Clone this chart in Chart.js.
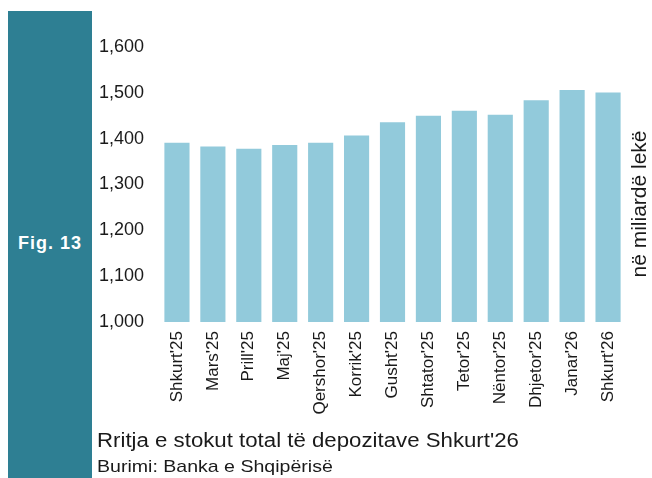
<!DOCTYPE html>
<html>
<head>
<meta charset="utf-8">
<script src="https://cdn.jsdelivr.net/npm/chart.js@4.4.1/dist/chart.umd.min.js"></script>
<style>
  html, body { margin: 0; padding: 0; background: #ffffff; }
  body { width: 652px; height: 478px; position: relative; overflow: hidden; font-family: "Liberation Sans", Arial, sans-serif; }
  #wrap { position: absolute; left: 0; top: 0; width: 652px; height: 478px; }
  #panel { position: absolute; left: 8px; top: 11px; width: 84px; height: 467px; background: #2e7f93; }
  #fig { position: absolute; left: 8px; top: 233px; width: 84px; text-align: center; color: #ffffff; font-weight: bold; font-size: 18px; letter-spacing: 1px; }
  #cap1 { position: absolute; left: 97px; top: 429px; color: #1a1a1a; font-size: 19.5px; white-space: nowrap; transform: scaleX(1.14); transform-origin: 0 0; }
  #cap2 { position: absolute; left: 97px; top: 457px; color: #1a1a1a; font-size: 17px; white-space: nowrap; transform: scaleX(1.15); transform-origin: 0 0; }
</style>
</head>
<body>
<div id="panel"></div>
<div id="fig">Fig. 13</div>
<div id="wrap"><canvas id="c" width="652" height="478"></canvas></div>
<div id="cap1">Rritja e stokut total të depozitave Shkurt'26</div>
<div id="cap2">Burimi: Banka e Shqipërisë</div>
<script>
const categories = ["Shkurt'25", "Mars'25", "Prill'25", "Maj'25", "Qershor'25", "Korrik'25", "Gusht'25", "Shtator'25", "Tetor'25", "Nëntor'25", "Dhjetor'25", "Janar'26", "Shkurt'26"];
const deposits = [1391, 1383, 1378, 1386, 1391, 1407, 1436, 1450, 1461, 1452, 1484, 1506, 1501];
const yTicks = [1000, 1100, 1200, 1300, 1400, 1500, 1600];
const unitLabel = "në miliardë lekë";

const unitPlugin = {
  id: 'unitLabel',
  afterDraw(chart) {
    const ctx = chart.ctx;
    ctx.save();
    ctx.translate(640, 204);
    ctx.rotate(-Math.PI / 2);
    ctx.fillStyle = '#1a1a1a';
    ctx.font = '21px "Liberation Sans", Arial, sans-serif';
    ctx.textAlign = 'center';
    ctx.textBaseline = 'middle';
    ctx.fillText(unitLabel, 0, 0);
    ctx.restore();
  }
};

new Chart(document.getElementById('c'), {
  type: 'bar',
  data: {
    labels: categories,
    datasets: [{
      data: deposits,
      backgroundColor: '#92cadb',
      borderWidth: 0,
      barPercentage: 0.7,
      categoryPercentage: 1.0
    }]
  },
  options: {
    responsive: false,
    animation: false,
    layout: { padding: { left: 92, right: 26, top: 47, bottom: 0 } },
    plugins: { legend: { display: false }, tooltip: { enabled: false } },
    scales: {
      x: {
        grid: { display: false, drawTicks: false },
        border: { display: false },
        ticks: {
          color: '#1a1a1a',
          font: { family: '"Liberation Sans", Arial, sans-serif', size: 17 },
          minRotation: 90, maxRotation: 90,
          padding: 9,
          autoSkip: false
        },
        afterFit(scale) { scale.height = 156; }
      },
      y: {
        min: 1000, max: 1600,
        grid: { display: false, drawTicks: false },
        border: { display: false },
        afterBuildTicks(scale) { scale.ticks = yTicks.map(v => ({ value: v })); },
        ticks: {
          color: '#1a1a1a',
          font: { family: '"Liberation Sans", Arial, sans-serif', size: 18 },
          padding: 15,
          callback: v => Number(v).toLocaleString('en-US')
        },
        afterFit(scale) { scale.width = 67; }
      }
    }
  },
  plugins: [unitPlugin]
});
</script>
</body>
</html>
